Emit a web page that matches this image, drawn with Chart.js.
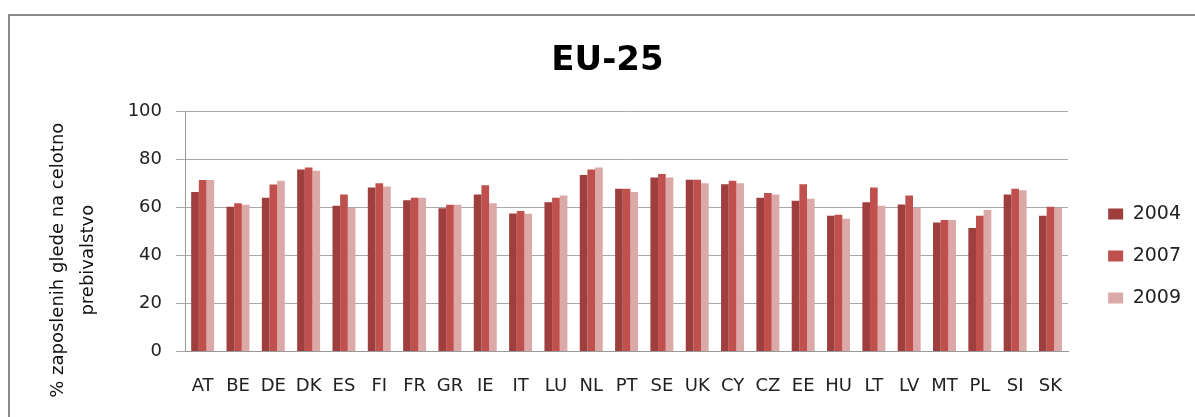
<!DOCTYPE html>
<html>
<head>
<meta charset="utf-8">
<script src="https://cdn.jsdelivr.net/npm/chart.js@4.4.1/dist/chart.umd.min.js"></script>
<style>
  body { margin: 0; background: #fff; overflow: hidden; }
  #frame {
    position: absolute;
    left: 8px;
    top: 14px;
    width: 1210px;
    height: 420px;
    border: 2px solid #8c8c8c;
    background: #fff;
  }
</style>
</head>
<body>
<div id="frame"><canvas id="chart" width="1200" height="405"></canvas></div>
<script>
// Države (kategorije)
const countries = ['AT', 'BE', 'DE', 'DK', 'ES', 'FI', 'FR', 'GR', 'IE', 'IT', 'LU', 'NL', 'PT',
  'SE', 'UK', 'CY', 'CZ', 'EE', 'HU', 'LT', 'LV', 'MT', 'PL', 'SI', 'SK'];

// Stopnja zaposlenosti po letih (%)
const values2004 = [66.5, 60.4, 64.1, 75.9, 60.8, 68.4, 63.1, 59.7, 65.5, 57.6, 62.3, 73.6, 67.9,
  72.6, 71.6, 69.8, 64.1, 62.9, 56.6, 62.3, 61.3, 53.8, 51.5, 65.5, 56.6];
const values2007 = [71.5, 61.8, 69.7, 76.8, 65.5, 70.2, 64.1, 61.2, 69.3, 58.6, 64.1, 75.9, 67.9,
  74.0, 71.6, 71.2, 66.1, 69.8, 57.0, 68.4, 65.1, 54.8, 56.6, 67.9, 60.4];
const values2009 = [71.5, 61.2, 71.2, 75.4, 59.8, 68.8, 64.1, 61.2, 61.8, 57.4, 65.1, 76.8, 66.5,
  72.6, 70.2, 70.2, 65.5, 63.7, 55.4, 60.8, 59.8, 54.8, 59.0, 67.3, 59.8];

const seriesLabels = ['2004', '2007', '2009'];
const yTicks = [0, 20, 40, 60, 80, 100];

const colors = ['#9e3f3e', '#c0504d', '#dba9a8'];
const fontFamily = '"DejaVu Sans", sans-serif';
// presledki na koncu potisnejo naslov osi nekoliko navzdol
const pad = '\u00a0'.repeat(10);

const ctx = document.getElementById('chart');
const chart = new Chart(ctx, {
  type: 'bar',
  data: {
    labels: countries,
    datasets: [values2004, values2007, values2009].map((vals, i) => ({
      label: seriesLabels[i],
      data: vals,
      backgroundColor: colors[i],
      borderWidth: 0,
      yAxisID: 'y'
    }))
  },
  options: {
    responsive: false,
    animation: false,
    layout: { padding: { left: 14, right: 19, top: 0, bottom: 0 } },
    datasets: { bar: { categoryPercentage: 0.65, barPercentage: 1 } },
    scales: {
      x: {
        grid: { display: false, drawTicks: false },
        border: { display: true, color: '#999' },
        ticks: {
          color: '#222',
          padding: 24,
          maxRotation: 0,
          autoSkip: false,
          font: { family: fontFamily, size: 18 }
        }
      },
      y: {
        min: 0,
        max: 100,
        afterBuildTicks: (scale) => { scale.ticks = yTicks.map(v => ({ value: v })); },
        afterFit: (scale) => { scale.width = 161; },
        grid: { color: '#a8a8a8', tickLength: 9 },
        border: { display: true, color: '#999' },
        ticks: {
          color: '#222',
          padding: 14,
          font: { family: fontFamily, size: 18 }
        },
        title: {
          display: true,
          text: ['% zaposlenih glede na celotno' + pad, 'prebivalstvo' + pad],
          color: '#111',
          padding: { top: 19 },
          font: { family: fontFamily, size: 18, lineHeight: '30px' }
        }
      },
      // prazna os za razmik med grafom in legendo
      gap: {
        position: 'right',
        display: true,
        afterFit: (scale) => { scale.width = 17; },
        grid: { display: false },
        border: { display: false },
        ticks: { display: false }
      }
    },
    plugins: {
      title: {
        display: true,
        text: 'EU-25',
        color: '#000',
        padding: { top: 25, bottom: 30 },
        font: { family: fontFamily, size: 34, weight: 'bold', lineHeight: 1.2 }
      },
      legend: {
        position: 'right',
        align: 'center',
        title: { display: true, text: ' ', padding: { top: 63, bottom: 0 }, font: { size: 10 } },
        labels: {
          boxWidth: 15,
          boxHeight: 11,
          padding: 23,
          color: '#222',
          font: { family: fontFamily, size: 19 }
        }
      },
      tooltip: { enabled: false }
    }
  }
});
</script>
</body>
</html>
